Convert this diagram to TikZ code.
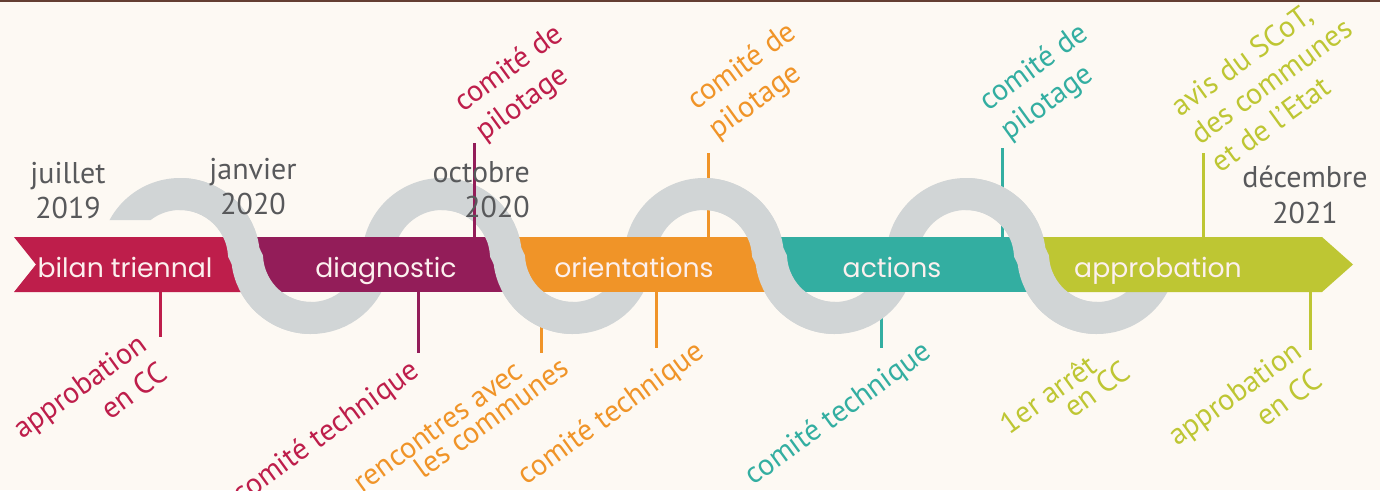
\documentclass[tikz,border=0pt]{standalone}
\usepackage{fontspec}
\setmainfont{PT Sans}
\newfontfamily\bandfont{Poppins}
\usetikzlibrary{calc}

\definecolor{cream}{RGB}{253,249,243}
\definecolor{topbrown}{RGB}{100,62,50}
\definecolor{wavegray}{RGB}{209,213,214}
\definecolor{dategray}{RGB}{88,89,91}
\definecolor{bandtext}{RGB}{252,240,238}
\definecolor{bilancol}{RGB}{190,30,75}
\definecolor{diagcol}{RGB}{147,29,89}
\definecolor{orientcol}{RGB}{240,148,40}
\definecolor{actioncol}{RGB}{51,174,161}
\definecolor{approcol}{RGB}{190,198,51}

\begin{document}
\begin{tikzpicture}[x=0.75pt, y=-0.75pt, inner sep=0pt,
	ribbon/.style={draw=wavegray, line width=24pt},
	tickline/.style={line width=2.25pt},
	band/.style={font=\bandfont\fontsize{20}{24}\selectfont, text=bandtext, anchor=base},
	datelabel/.style={font=\fontsize{22.5}{26.5}\selectfont, text=dategray, align=center},
	lab/.style={font=\fontsize{22.5}{27}\selectfont, rotate=36},
	tightlab/.style={font=\fontsize{22.5}{18.5}\selectfont, rotate=36}]

	\useasboundingbox (0,0) rectangle (1380,490);
	\fill[cream] (0,0) rectangle (1380,490);
	\draw[topbrown, line width=1.5pt] (0,1) -- (1380,1);

	\coordinate (t1) at (180,258);
	\coordinate (b1) at (311,254);
	\coordinate (t2) at (442,258);
	\coordinate (b2) at (573,254);
	\coordinate (t3) at (704,258);
	\coordinate (b3) at (835,254);
	\coordinate (t4) at (966,258);
	\coordinate (b4) at (1097,254);

	\coordinate (k1) at (160,292);
	\coordinate (k1e) at (160,337);
	\coordinate (k2) at (418,292);
	\coordinate (k2e) at (418,353);
	\coordinate (k3) at (474,237);
	\coordinate (k3e) at (474,143);
	\coordinate (k4) at (541,292);
	\coordinate (k4e) at (541,353);
	\coordinate (k5) at (656,292);
	\coordinate (k5e) at (656,348);
	\coordinate (k6) at (708,237);
	\coordinate (k6e) at (708,153);
	\coordinate (k7) at (881,292);
	\coordinate (k7e) at (881,348);
	\coordinate (k8) at (1002,237);
	\coordinate (k8e) at (1002,148);
	\coordinate (k9) at (1203,237);
	\coordinate (k9e) at (1203,153);
	\coordinate (k10) at (1310,292);
	\coordinate (k10e) at (1310,350);

	\path[tickline]
		(k1) edge[bilancol] (k1e)
		(k2) edge[diagcol] (k2e)
		(k4) edge[orientcol] (k4e)
		(k5) edge[orientcol] (k5e)
		(k6) edge[orientcol] (k6e)
		(k7) edge[actioncol] (k7e)
		(k8) edge[actioncol] (k8e)
		(k9) edge[approcol] (k9e)
		(k10) edge[approcol] (k10e);

	\begin{scope}
		\clip (0,0) -- (1380,0) -- (1380,490) -- (165,490) -- (165,220) -- (0,220) -- cycle;
		\draw[ribbon] ($(t1)+(180:64)$) arc[start angle=180, end angle=355, radius=64]
			.. controls +(0.2,2.4) and +(-0.2,-2.4) .. ($(b1)+(175:64)$) arc[start angle=175, end angle=5, radius=64]
			.. controls +(0.2,-2.4) and +(-0.2,2.4) .. ($(t2)+(185:64)$) arc[start angle=185, end angle=355, radius=64]
			.. controls +(0.2,2.4) and +(-0.2,-2.4) .. ($(b2)+(175:64)$) arc[start angle=175, end angle=5, radius=64]
			.. controls +(0.2,-2.4) and +(-0.2,2.4) .. ($(t3)+(185:64)$) arc[start angle=185, end angle=355, radius=64]
			.. controls +(0.2,2.4) and +(-0.2,-2.4) .. ($(b3)+(175:64)$) arc[start angle=175, end angle=5, radius=64]
			.. controls +(0.2,-2.4) and +(-0.2,2.4) .. ($(t4)+(185:64)$) arc[start angle=185, end angle=355, radius=64]
			.. controls +(0.2,2.4) and +(-0.2,-2.4) .. ($(b4)+(175:64)$) arc[start angle=175, end angle=-10, radius=64];
	\end{scope}

	\fill[bilancol] (14,237) -- (245.5,237) -- (245.5,292) -- (14,292) -- (36,264.5) -- cycle;
	\fill[diagcol] (245.5,237) rectangle (507.5,292);
	\fill[orientcol] (507.5,237) rectangle (769.5,292);
	\fill[actioncol] (769.5,237) rectangle (1031.5,292);
	\fill[approcol] (1031.5,237) -- (1322,237) -- (1353,264.5) -- (1322,292) -- (1031.5,292) -- cycle;

	\draw[ribbon] ($(t1)+(270:64)$) arc[start angle=270, end angle=355, radius=64] .. controls +(0.2,2.4) and +(-0.2,-2.4) .. ($(b1)+(175:64)$) arc[start angle=175, end angle=90, radius=64];
	\draw[ribbon] ($(t2)+(270:64)$) arc[start angle=270, end angle=355, radius=64] .. controls +(0.2,2.4) and +(-0.2,-2.4) .. ($(b2)+(175:64)$) arc[start angle=175, end angle=90, radius=64];
	\draw[ribbon] ($(t3)+(270:64)$) arc[start angle=270, end angle=355, radius=64] .. controls +(0.2,2.4) and +(-0.2,-2.4) .. ($(b3)+(175:64)$) arc[start angle=175, end angle=90, radius=64];
	\draw[ribbon] ($(t4)+(270:64)$) arc[start angle=270, end angle=355, radius=64] .. controls +(0.2,2.4) and +(-0.2,-2.4) .. ($(b4)+(175:64)$) arc[start angle=175, end angle=90, radius=64];

	\path[tickline] (k3) edge[diagcol] (k3e);

	\node[band] (n1) at (125,277) {bilan triennal};
	\node[band] (n2) at (386,277) {diagnostic};
	\node[band] (n3) at (634,277) {orientations};
	\node[band] (n4) at (892,277) {actions};
	\node[band] (n5) at (1158,277) {approbation};

	\node[lab, text=bilancol, align=right, anchor=north east] (r1) at (136,331) {approbation\\en CC};
	\node[lab, text=bilancol, anchor=north east] (r2) at (408,357) {comité technique};
	\node[lab, text=bilancol, align=left, anchor=south west] (r3) at (488,147) {comité de\\pilotage};
	\node[tightlab, text=orientcol, align=right, anchor=north east] (o1) at (514,360) {rencontres avec\\les communes\hspace*{-1.3em}};
	\node[lab, text=orientcol, anchor=north east] (o2) at (693,338) {comité technique};
	\node[lab, text=orientcol, align=left, anchor=south west] (o3) at (721,145) {comité de\\pilotage};
	\node[lab, text=actioncol, anchor=north east] (a1) at (920,338) {comité technique};
	\node[lab, text=actioncol, align=left, anchor=south west] (a2) at (1013,146) {comité de\\pilotage};
	\node[tightlab, text=approcol, align=right, anchor=north east] (p1) at (1086,352) {1er arrêt\\en CC\hspace*{-0.8em}};
	\node[lab, text=approcol, align=right, anchor=north east] (p2) at (1291,338) {approbation\\en CC};
	\node[lab, text=approcol, align=left, anchor=south west, font=\fontsize{22.5}{26}\selectfont] (p3) at (1221,174) {avis du SCoT,\\des communes\\et de l’Etat};

	\node[datelabel, anchor=north] (d1) at (68,162) {juillet\\2019};
	\node[datelabel, anchor=north] (d2) at (253,158) {janvier\\2020};
	\node[datelabel, align=right, anchor=north east] (d3) at (530,161) {octobre\\2020};
	\node[datelabel, anchor=north] (d4) at (1305,166) {décembre\\2021};
\end{tikzpicture}
\end{document}
